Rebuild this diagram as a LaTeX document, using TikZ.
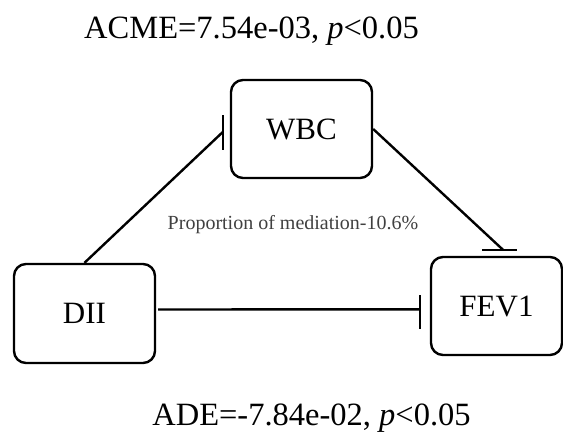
\documentclass[tikz,border=0pt]{standalone}
\usepackage{fontspec}
\setmainfont{Liberation Serif}
\begin{document}
\begin{tikzpicture}[x=1pt,y=-1pt,
   box/.style={draw,line width=2.4pt,rounded corners=12pt,inner sep=0pt,
               font=\fontsize{31}{33}\selectfont},
   link/.style={line width=2.4pt},
   label/.style={anchor=base,inner sep=0pt}]

\useasboundingbox (0,0) rectangle (563,432);

\node[box,minimum width=141pt,minimum height=98pt] (wbc) at (301.5,129) {WBC};
\node[box,minimum width=141pt,minimum height=99pt] (dii) at (84.5,313.5) {DII};
\node[box,minimum width=131pt,minimum height=98pt] (fev1) at (496.5,306) {FEV1};

% indirect path
\draw[link] (dii.north) -- ([shift={(-7,3)}]wbc.west);
\draw[link] ([shift={(-7,-14)}]wbc.west) -- ++(0,35);
\draw[link] (wbc.east) -- ([shift={(6.5,-6)}]fev1.north);
\draw[link] ([shift={(-14.5,-6)}]fev1.north) -- ++(35,0);

% direct path
\draw[link] ([shift={(2,-4)}]dii.east) -- ([shift={(-9.7,3.3)}]fev1.west);
\draw[link] ([shift={(-9.7,-11)}]fev1.west) -- ++(0,34);

\node[label,font=\fontsize{32.5}{34}\selectfont] (acme) at (251.5,38)
  {ACME=7.54e-03, \textit{p}<0.05};
\node[label,font=\fontsize{32.5}{34}\selectfont] (ade) at (311.5,425)
  {ADE=-7.84e-02, \textit{p}<0.05};
\node[label,text=black!75,font=\fontsize{20}{22}\selectfont] (prop) at (293,229)
  {Proportion of mediation-10.6\%};

\end{tikzpicture}
\end{document}
